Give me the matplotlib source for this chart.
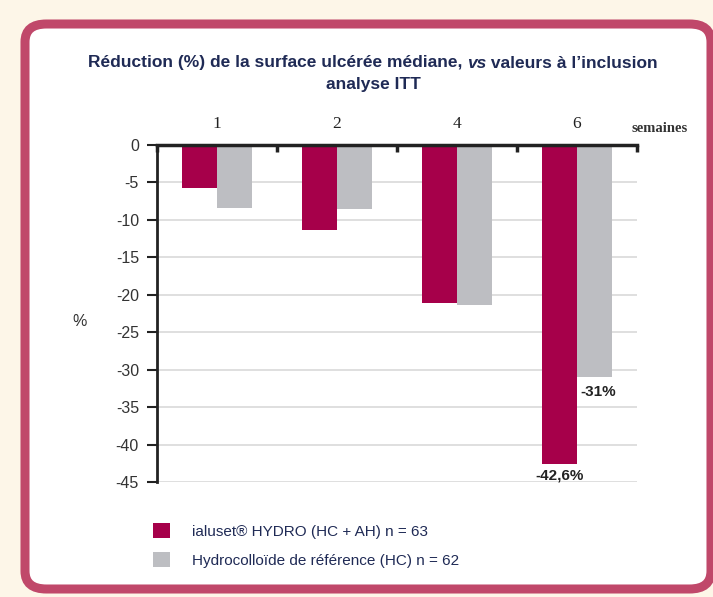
import matplotlib
matplotlib.use("Agg")
import matplotlib.pyplot as plt
from matplotlib import font_manager
from matplotlib.patches import FancyBboxPatch
import numpy as np

# ---- data ----
weeks = ["1", "2", "4", "6"]
ialuset = [-5.7, -11.4, -21.1, -42.6]
reference = [-8.4, -8.5, -21.4, -31.0]
series_names = ["ialuset\u00ae HYDRO (HC + AH) n = 63",
                "Hydrocollo\u00efde de r\u00e9f\u00e9rence (HC) n = 62"]
yticks = [0, -5, -10, -15, -20, -25, -30, -35, -40, -45]
annot_red = "-42,6%"
annot_grey = "-31%"

RED = "#a6004a"
GREY = "#bdbec2"
NAVY = "#1f2a55"
BORDER = "#c0486a"
CREAM = "#fdf6e8"

names = {f.name for f in font_manager.fontManager.ttflist}
NARROW = "Liberation Sans Narrow" if "Liberation Sans Narrow" in names else "Liberation Sans"
SANS = "Liberation Sans"
SERIF = "Liberation Serif"

W, H = 713, 597
fig = plt.figure(figsize=(W / 100, H / 100), dpi=100)
fig.patch.set_facecolor(CREAM)

def fx(px):
    return px / W

def fy(py):
    return 1 - py / H

# rounded frame
frame = FancyBboxPatch((fx(25), fy(589)), fx(711) - fx(25), fy(24) - fy(589),
                       boxstyle="round,pad=0,rounding_size=0.03",
                       transform=fig.transFigure, facecolor="white",
                       edgecolor=BORDER, linewidth=6.5, zorder=-5)
fig.patches.append(frame)

ax = fig.add_axes([fx(157), fy(482), fx(637) - fx(157), fy(145) - fy(482)])
ax.set_facecolor("none")
ax.set_zorder(2)

x = np.arange(len(weeks))
bw = 0.29
b1 = ax.bar(x - bw / 2, ialuset, bw, color=RED, label=series_names[0], zorder=3)
b2 = ax.bar(x + bw / 2, reference, bw, color=GREY, label=series_names[1], zorder=3)

ax.set_xlim(-0.5, len(weeks) - 0.5)
ax.set_ylim(-45, 0)
ax.set_yticks(yticks)
ax.set_yticklabels([str(v) for v in yticks], fontfamily=SANS, fontsize=11.5, color="#333333")
ax.yaxis.grid(True, color="#d9d9d9", linewidth=1.2, zorder=0)
ax.set_axisbelow(True)
ax.tick_params(axis="y", direction="out", length=7, width=1.5, color="#222222", pad=6)

ax.xaxis.tick_top()
ax.set_xticks(x)
ax.set_xticklabels(weeks, fontfamily=SERIF, fontsize=12.5, color="#222222")
ax.set_xticks(np.arange(-0.5, len(weeks), 1.0), minor=True)
ax.tick_params(axis="x", which="major", length=0, pad=9)
ax.tick_params(axis="x", which="minor", direction="in", length=5, width=2.5, color="#222222", top=True, bottom=False)

for s in ["right", "bottom"]:
    ax.spines[s].set_visible(False)
ax.spines["top"].set_linewidth(2.5)
ax.spines["top"].set_color("#222222")
ax.spines["left"].set_linewidth(2)
ax.spines["left"].set_color("#222222")
ax.spines["top"].set_zorder(5)

# value annotations
ax.annotate(annot_red, (x[3] - bw / 2, ialuset[3]), xytext=(0, -3), textcoords="offset points",
            ha="center", va="top", fontfamily=NARROW, fontweight="bold", fontsize=11, color="#222222")
ax.annotate(annot_grey, (x[3] + bw / 2, reference[3]), xytext=(3, -6), textcoords="offset points",
            ha="center", va="top", fontfamily=NARROW, fontweight="bold", fontsize=11, color="#222222")

# % label and "semaines"
fig.text(fx(80), fy(322), "%", fontfamily=SANS, fontsize=11.5, color="#333333", ha="center", va="center")
fig.text(fx(632), fy(128), "semaines", fontfamily=SERIF, fontweight="bold", fontsize=10.5,
         color="#333333", ha="left", va="center")

# title with italic "vs"
fig.canvas.draw()
renderer = fig.canvas.get_renderer()
tkw = dict(fontfamily=NARROW, fontweight="bold", fontsize=12.5, color=NAVY, va="center")
parts = [("R\u00e9duction (%) de la surface ulc\u00e9r\u00e9e m\u00e9diane, ", "normal"),
         ("vs", "italic"),
         (" valeurs \u00e0 l\u2019inclusion", "normal")]
texts = []
for s, st in parts:
    t = fig.text(0, fy(63), s, ha="left", fontstyle=st, **tkw)
    texts.append(t)
widths = [t.get_window_extent(renderer).width for t in texts]
total = sum(widths)
start = 373 - total / 2
for t, w in zip(texts, widths):
    t.set_x(fx(start))
    start += w
fig.text(fx(373), fy(85), "analyse ITT", ha="center", **tkw)

# legend
fig.legend(handles=[b1, b2], labels=series_names, loc="upper left",
           bbox_to_anchor=(fx(139), fy(509)), frameon=False,
           prop=dict(family=SANS, size=11), labelcolor=NAVY,
           handlelength=1.15, handleheight=1.15, handletextpad=1.45, labelspacing=0.9)

fig.savefig("out.png", dpi=100, facecolor=CREAM)
